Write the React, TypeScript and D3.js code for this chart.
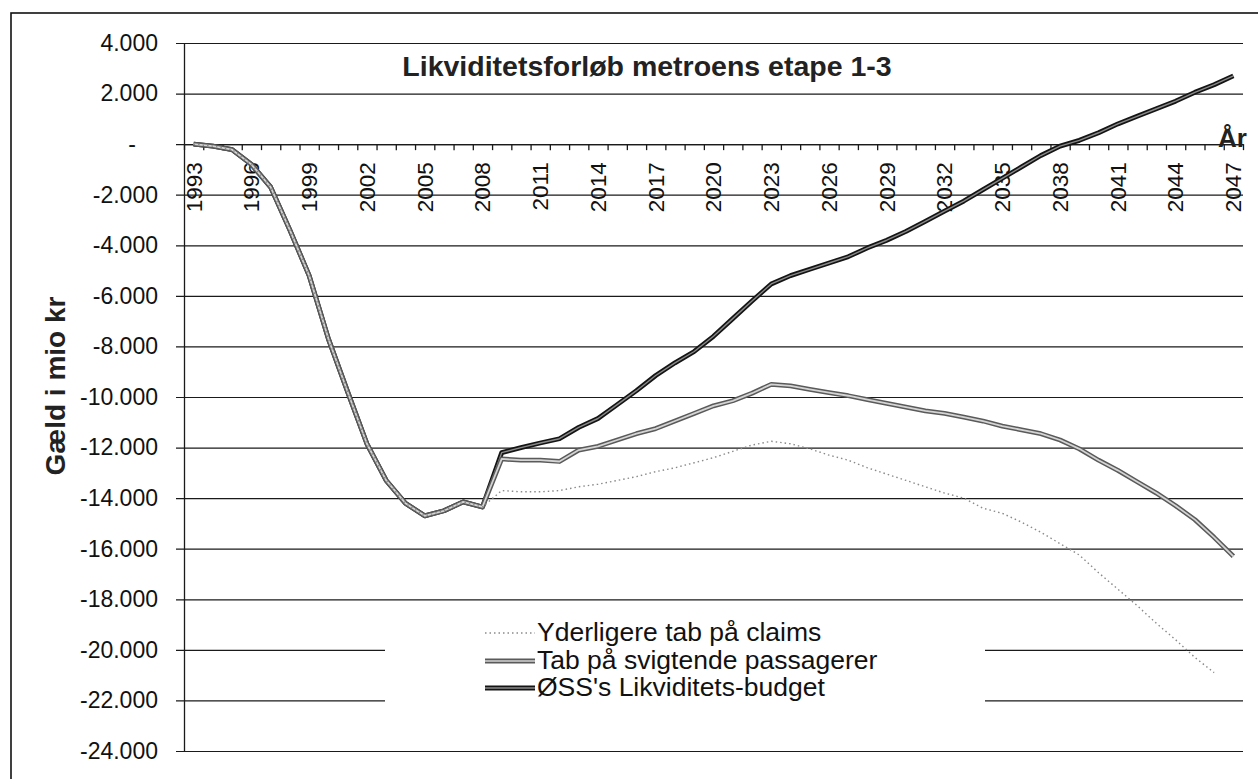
import React, { useRef, useEffect } from 'react';
import * as d3 from 'd3';

// år på x-aksen
const years = [
  1993, 1994, 1995, 1996, 1997, 1998, 1999, 2000, 2001, 2002, 2003, 2004, 2005, 2006,
  2007, 2008, 2009, 2010, 2011, 2012, 2013, 2014, 2015, 2016, 2017, 2018, 2019, 2020,
  2021, 2022, 2023, 2024, 2025, 2026, 2027, 2028, 2029, 2030, 2031, 2032, 2033, 2034,
  2035, 2036, 2037, 2038, 2039, 2040, 2041, 2042, 2043, 2044, 2045, 2046, 2047,
];
const yearLabels = [
  1993, 1996, 1999, 2002, 2005, 2008, 2011, 2014, 2017, 2020, 2023, 2026, 2029, 2032,
  2035, 2038, 2041, 2044, 2047,
];
const yTicks = [
  -24000, -22000, -20000, -18000, -16000, -14000, -12000, -10000, -8000, -6000, -4000,
  -2000, 0, 2000, 4000,
];

// fælles forløb 1993-2008 (mio kr)
const common = [0, -80, -220, -800, -1700, -3400, -5200, -7700, -9800, -11850, -13300, -14200, -14700, -14500, -14150, -14350];

// 2009-2047
const budgetTail = [
  -12200, -12000, -11820, -11650, -11200, -10850, -10300, -9750, -9150, -8650, -8200, -7600,
  -6900, -6200, -5530, -5200, -4950, -4700, -4450, -4100, -3800, -3450, -3050, -2650, -2250,
  -1800, -1350, -900, -450, -80, 150, 450, 800, 1100, 1400, 1700, 2050, 2350, 2700,
];
const passengerTail = [
  -12450, -12500, -12500, -12550, -12100, -11950, -11700, -11450, -11250, -10950, -10650,
  -10350, -10150, -9850, -9500, -9560, -9700, -9830, -9950, -10100, -10250, -10400, -10550,
  -10650, -10800, -10950, -11150, -11300, -11450, -11700, -12050, -12500, -12900, -13350,
  -13800, -14300, -14850, -15550, -16300,
];
// 2009-2046
const claimsTail = [
  -13700, -13750, -13750, -13700, -13550, -13450, -13300, -13150, -12950, -12800, -12600,
  -12400, -12150, -11900, -11750, -11850, -12050, -12300, -12500, -12800, -13050, -13300,
  -13550, -13800, -14000, -14400, -14600, -14950, -15350, -15800, -16250, -16950, -17600,
  -18250, -18950, -19600, -20300, -20900,
];

const budget = common.concat(budgetTail);
const passengers = common.concat(passengerTail);
const claims = common.concat(claimsTail);

const FONT = '"Liberation Sans", Arial, sans-serif';

const App: React.FC = () => {
  const svgRef = useRef<SVGSVGElement>(null);

  useEffect(() => {
    const svg = d3.select(svgRef.current);
    svg.selectAll('*').remove();

    const width = 1258;
    const height = 779;
    const plot = { left: 184, right: 1243, top: 43, bottom: 751 };

    const x = d3.scaleBand<number>()
      .domain(years)
      .range([plot.left, plot.right])
      .padding(0);
    const xc = (yr: number) => x(yr)! + x.bandwidth() / 2;

    const y = d3.scaleLinear()
      .domain([-24000, 4000])
      .range([plot.bottom, plot.top]);

    const dk = d3.formatLocale({
      decimal: ',', thousands: '.', grouping: [3], currency: ['', ' kr'], minus: '-',
    });
    const fmt = dk.format(',');

    // ramme
    svg.append('rect')
      .attr('x', 11).attr('y', 13)
      .attr('width', width + 40).attr('height', height + 40)
      .attr('fill', 'white').attr('stroke', '#111').attr('stroke-width', 1.6);

    // gitterlinjer
    svg.append('g')
      .attr('transform', `translate(${plot.left - 8},0)`)
      .call(d3.axisRight(y).tickValues(yTicks).tickSize(plot.right - plot.left + 8).tickFormat(() => ''))
      .call(g => g.select('.domain').remove())
      .call(g => g.selectAll('line').attr('stroke', '#1a1a1a').attr('stroke-width', 1.2));

    // y-akse
    const yAxis = svg.append('g')
      .attr('transform', `translate(${plot.left},0)`)
      .call(d3.axisLeft(y).tickValues(yTicks).tickSize(0).tickPadding(26)
        .tickFormat(d => (+d === 0 ? '-' : fmt(+d))));
    yAxis.select('.domain').attr('stroke', '#1a1a1a').attr('stroke-width', 1.3);
    yAxis.selectAll('text')
      .attr('font-family', FONT).attr('font-size', 23).attr('fill', '#111');
    yAxis.selectAll<SVGGElement, number>('.tick')
      .filter(d => d === 0)
      .select('text').attr('x', -48);

    // legende-baggrund skjuler gitter
    svg.append('rect')
      .attr('x', 385).attr('y', 610)
      .attr('width', 600).attr('height', 110)
      .attr('fill', 'white');

    // x-akse ved 0
    const tickScale = d3.scaleLinear().domain([0, years.length]).range([plot.left, plot.right]);
    const xAxis = svg.append('g')
      .attr('transform', `translate(0,${y(0)})`)
      .call(d3.axisBottom(tickScale).tickValues(d3.range(0, years.length + 1))
        .tickSize(6).tickSizeOuter(0).tickFormat(() => ''));
    xAxis.selectAll('line, path').attr('stroke', '#1a1a1a').attr('stroke-width', 1.3);

    const xLabels = svg.append('g')
      .attr('transform', `translate(0,${y(0)})`)
      .call(d3.axisBottom(x).tickValues(yearLabels).tickSize(0).tickFormat(d => String(d)));
    xLabels.select('.domain').remove();
    xLabels.selectAll('text')
      .attr('font-family', FONT).attr('font-size', 22.5).attr('fill', '#111')
      .attr('transform', 'rotate(-90)')
      .attr('text-anchor', 'end')
      .attr('x', -18).attr('y', 0).attr('dy', '0.35em');

    // serier
    const line = d3.line<number>()
      .x((_, i) => xc(years[i]))
      .y(d => y(d));

    const doubleLine = (data: number[], outer: string, ow: number, inner: string, iw: number) => {
      svg.append('path').datum(data).attr('d', line)
        .attr('fill', 'none').attr('stroke', outer).attr('stroke-width', ow)
        .attr('stroke-linejoin', 'round');
      svg.append('path').datum(data).attr('d', line)
        .attr('fill', 'none').attr('stroke', inner).attr('stroke-width', iw)
        .attr('stroke-linejoin', 'round');
    };

    doubleLine(budget, '#141414', 4.8, '#8a8a8a', 1.4);
    doubleLine(passengers, '#5a5a5a', 4.8, '#d4d4d4', 1.8);
    svg.append('path').datum(claims).attr('d', line)
      .attr('fill', 'none').attr('stroke', '#8a8a8a').attr('stroke-width', 1.4)
      .attr('stroke-dasharray', '1.5 3');

    // titel
    svg.append('text')
      .attr('x', 647).attr('y', 76)
      .attr('text-anchor', 'middle')
      .attr('font-family', FONT).attr('font-weight', 'bold').attr('font-size', 28.5)
      .attr('fill', '#222')
      .text('Likviditetsforløb metroens etape 1-3');

    // aksetitler
    svg.append('text')
      .attr('transform', `translate(65,386) rotate(-90)`)
      .attr('text-anchor', 'middle')
      .attr('font-family', FONT).attr('font-weight', 'bold').attr('font-size', 28)
      .attr('fill', '#222')
      .text('Gæld i mio kr');

    svg.append('text')
      .attr('x', 1247).attr('y', 147)
      .attr('text-anchor', 'end')
      .attr('font-family', FONT).attr('font-weight', 'bold').attr('font-size', 26)
      .attr('fill', '#222')
      .text('År');

    // legende
    const legend = [
      { name: 'Yderligere tab på claims', kind: 'claims' },
      { name: 'Tab på svigtende passagerer', kind: 'pass' },
      { name: "ØSS's Likviditets-budget", kind: 'budget' },
    ];
    const rowY = [633, 661, 688];
    legend.forEach((item, i) => {
      const ly = rowY[i];
      const seg = `M485,${ly}L535,${ly}`;
      if (item.kind === 'claims') {
        svg.append('path').attr('d', seg).attr('stroke', '#8a8a8a')
          .attr('stroke-width', 1.4).attr('stroke-dasharray', '1.5 3');
      } else {
        const outer = item.kind === 'pass' ? '#5a5a5a' : '#141414';
        const inner = item.kind === 'pass' ? '#d4d4d4' : '#8a8a8a';
        svg.append('path').attr('d', seg).attr('stroke', outer).attr('stroke-width', 4.8);
        svg.append('path').attr('d', seg).attr('stroke', inner).attr('stroke-width', 1.5);
      }
      svg.append('text')
        .attr('x', 537).attr('y', ly + 8)
        .attr('font-family', FONT).attr('font-size', 26.5).attr('fill', '#111')
        .text(item.name);
    });
  }, []);

  return (
    <svg
      ref={svgRef}
      width={1258}
      height={779}
      style={{ position: 'absolute', left: 0, top: 0, background: 'white' }}
    />
  );
};

export default App;
